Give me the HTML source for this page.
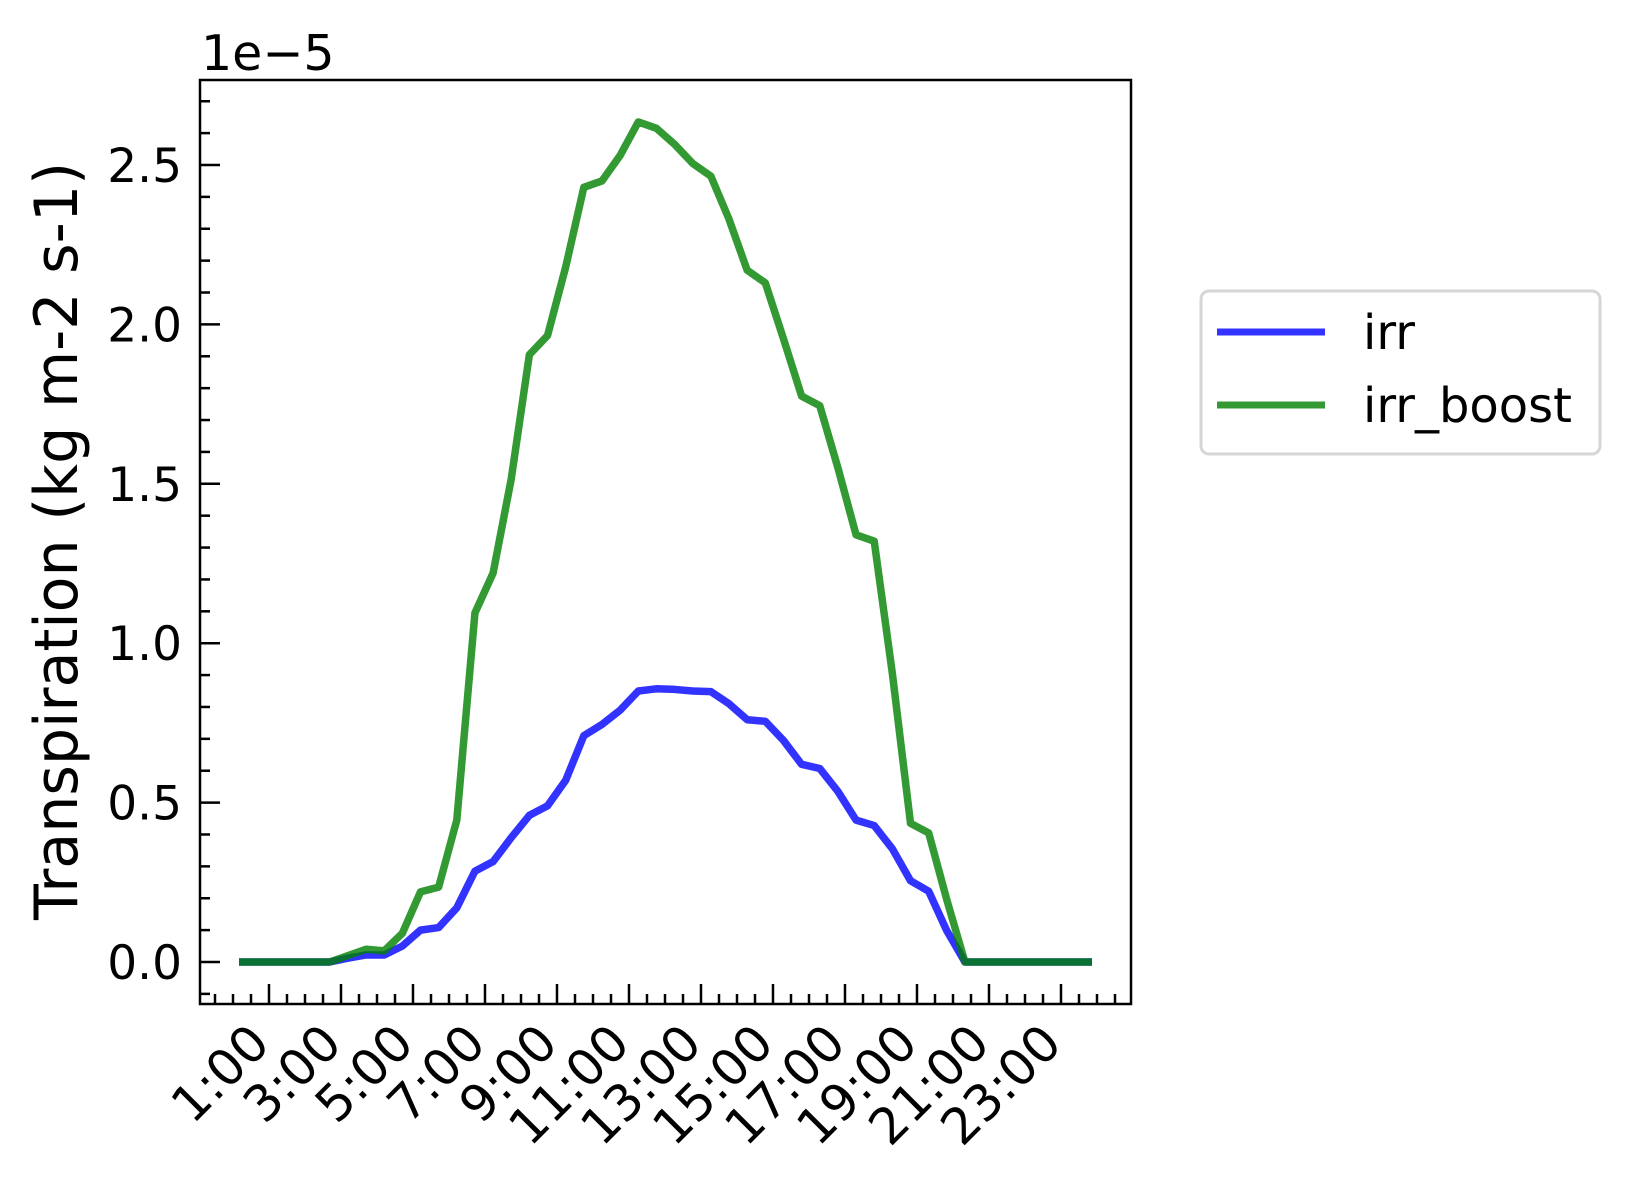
<!DOCTYPE html>
<html><head><meta charset="utf-8"><style>
html,body{margin:0;padding:0;background:#fff;}
svg{display:block;font-family:"DejaVu Sans","Liberation Sans",sans-serif;}
</style></head><body>
<svg id="chart" width="1629" height="1185" viewBox="0 0 1629 1185">
<rect x="0" y="0" width="1629" height="1185" fill="#fff"/>
<g id="plot"></g>
<g id="axes"></g>
<text x="201" y="70" font-size="49" fill="#000">1e−5</text>
<text transform="translate(77,541) rotate(-90)" text-anchor="middle" font-size="60" textLength="758" lengthAdjust="spacingAndGlyphs" fill="#000">Transpiration (kg m-2 s-1)</text>
<g>
<rect x="1201" y="291" width="399" height="163" rx="8" fill="#fff" stroke="#d6d6d6" stroke-width="3"/>
<line x1="1217" y1="332" x2="1325" y2="332" stroke="rgb(51,51,255)" stroke-width="7"/>
<text x="1363" y="349" font-size="48">irr</text>
<line x1="1217" y1="405" x2="1325" y2="405" stroke="rgb(51,153,51)" stroke-width="7"/>
<text x="1363" y="422" font-size="48">irr_boost</text>
</g>
</svg>
<script>
const hourLabels = ["1:00","3:00","5:00","7:00","9:00","11:00","13:00","15:00","17:00","19:00","21:00","23:00"];
const yTicks = [0.0,0.5,1.0,1.5,2.0,2.5];
const yTickLabels = ["0.0","0.5","1.0","1.5","2.0","2.5"];
const irr = [0,0,0,0,0,0,0.012,0.022,0.022,0.05,0.1,0.108,0.17,0.285,0.315,0.39,0.46,0.49,0.57,0.71,0.745,0.79,0.85,0.857,0.855,0.85,0.848,0.81,0.76,0.755,0.695,0.62,0.607,0.535,0.445,0.428,0.355,0.255,0.222,0.098,0,0,0,0,0,0,0,0];
const irrBoost = [0,0,0,0,0,0,0.02,0.04,0.035,0.09,0.22,0.235,0.445,1.095,1.22,1.515,1.905,1.965,2.18,2.43,2.45,2.53,2.635,2.615,2.565,2.505,2.465,2.33,2.17,2.13,1.955,1.775,1.745,1.55,1.34,1.32,0.905,0.435,0.405,0.195,0,0,0,0,0,0,0,0];

const NS="http://www.w3.org/2000/svg";
const L=200,R=1131,T=80,B=1004;
const x0=239, dx=853/47;
function xs(i){return x0+i*dx;}
function ys(v){return 962-v*318.8;}
function mk(tag,attrs,parent){const e=document.createElementNS(NS,tag);for(const k in attrs)e.setAttribute(k,attrs[k]);parent.appendChild(e);return e;}
const plot=document.getElementById('plot'), axes=document.getElementById('axes');

function series(vals,color,name){
  const d=vals.map((v,i)=>(i?'L':'M')+xs(i).toFixed(2)+' '+ys(v).toFixed(2)).join(' ');
  const p=mk('path',{d:d,fill:'none',stroke:color,'stroke-opacity':0.8,'stroke-width':7.5,'stroke-linejoin':'round'},plot);
  
  
}
series(irr,'rgb(0,0,255)','irr-line');
series(irrBoost,'rgb(0,128,0)','irr-boost-line');

for(let k=-1; k<=27; k++){
  const y=ys(k/10);
  if(y<T+2||y>B-2)continue;
  const major=(k%5===0);
  const t=mk('line',{x1:L,x2:L+(major?20:10),y1:y,y2:y,stroke:'#000','stroke-width':2.5},axes);
  
  
}
yTicks.forEach((v,k)=>{
  const t=mk('text',{x:182,y:ys(v)+17,'text-anchor':'end','font-size':47},axes);
  t.textContent=yTickLabels[k];
  
  
});
const firstMajor=269, hr=36;
for(let k=-4;k<50;k++){
  const x=firstMajor+k*hr/2;
  if(x<L+2||x>R-2)continue;
  const major=(k%4===0);
  const t=mk('line',{x1:x,x2:x,y1:B,y2:B-(major?20:10),stroke:'#000','stroke-width':2.5},axes);
  
  
}
hourLabels.forEach((s,k)=>{
  const x=firstMajor+k*2*hr+3, y=1046;
  const t=mk('text',{x:x,y:y,'text-anchor':'end','font-size':50,transform:'rotate(-45 '+x+' '+y+')'},axes);
  t.textContent=s;
  
  
});
const fr=mk('rect',{x:L,y:T,width:R-L,height:B-T,fill:'none',stroke:'#000','stroke-width':2.5},axes);


</script>
</body></html>
